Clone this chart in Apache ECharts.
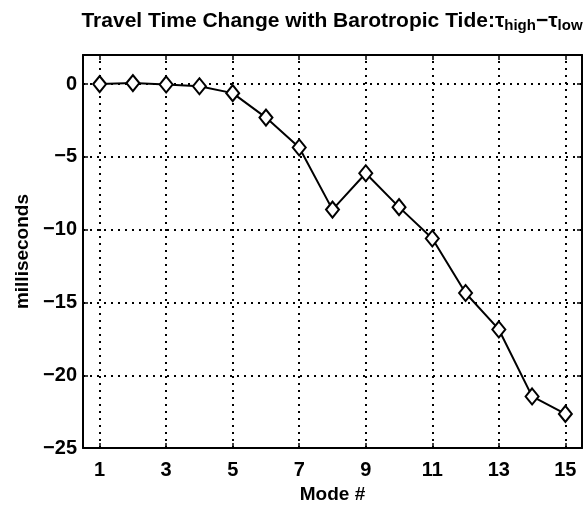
<!DOCTYPE html>
<html><head><meta charset="utf-8">
<script src="https://cdn.jsdelivr.net/npm/echarts@6/dist/echarts.min.js"></script>
<style>html,body{margin:0;padding:0;background:#fff}#c{width:587px;height:509px}</style>
</head><body><div id="c"></div>
<script>
const modes = [1,2,3,4,5,6,7,8,9,10,11,12,13,14,15];
const travelTime = [0, 0.07, -0.02, -0.15, -0.62, -2.3, -4.35, -8.62, -6.12, -8.45, -10.6, -14.35, -16.85, -21.45, -22.65];
const xTicks = [1,3,5,7,9,11,13,15];
const yTicks = [0,-5,-10,-15,-20,-25];

const font = 'Liberation Sans, Arial, sans-serif';
const chart = echarts.init(document.getElementById('c'));
const axisLine = {onZero:false, lineStyle:{color:'#000', width:2}};
chart.setOption({
  animation:false,
  backgroundColor:'#fff',
  title:{
    text:'Travel Time Change with Barotropic Tide:τ{s|high}−τ{s|low}',
    left:327, textAlign:'center', top:5,
    textStyle:{fontFamily:font, fontWeight:'bold', fontSize:21, color:'#000', lineHeight:23,
      rich:{s:{fontFamily:font, fontWeight:'bold', fontSize:15, color:'#000', lineHeight:23, verticalAlign:'bottom', padding:[12,0,0,0]}}}
  },
  grid:{left:83, right:5, top:55, bottom:57},
  xAxis:[{
    type:'value', min:0.5, max:15.5,
    name:'Mode #', nameLocation:'middle', nameGap:23,
    nameTextStyle:{fontFamily:font, fontWeight:'bold', fontSize:19, color:'#000'},
    axisLine:axisLine,
    axisTick:{inside:true, length:5, customValues:xTicks, lineStyle:{color:'#000', width:1.5}},
    axisLabel:{customValues:xTicks, fontFamily:font, fontWeight:'bold', fontSize:20, color:'#000', margin:12},
    splitLine:{show:false}
  },{
    type:'value', min:0.5, max:15.5, position:'top',
    axisLine:axisLine,
    axisTick:{inside:true, length:5, customValues:xTicks, lineStyle:{color:'#000', width:1.5}},
    axisLabel:{show:false}, splitLine:{show:false}
  }],
  yAxis:[{
    type:'value', min:-25, max:2, interval:5,
    name:'milliseconds', nameLocation:'middle', nameGap:51,
    nameTextStyle:{fontFamily:font, fontWeight:'bold', fontSize:19, color:'#000'},
    axisLine:axisLine,
    axisTick:{inside:true, length:5, customValues:yTicks, lineStyle:{color:'#000', width:1.5}},
    axisLabel:{customValues:yTicks, fontFamily:font, fontWeight:'bold', fontSize:20, color:'#000', margin:6,
      formatter:v=>String(v).replace('-','\u2212')},
    splitLine:{show:false}
  },{
    type:'value', min:-25, max:2, interval:5, position:'right',
    axisLine:axisLine,
    axisTick:{inside:true, length:5, customValues:yTicks, lineStyle:{color:'#000', width:1.5}},
    axisLabel:{show:false}, splitLine:{show:false}
  }],
  series:[{
    type:'line', xAxisIndex:0, yAxisIndex:0,
    data:modes.map((m,i)=>[m, travelTime[i]]),
    symbol:'diamond', symbolSize:[13,16],
    itemStyle:{color:'#fff', borderColor:'#000', borderWidth:2},
    lineStyle:{color:'#000', width:2},
    z:5,
    markLine:{
      silent:true, symbol:'none', label:{show:false},
      lineStyle:{color:'#000', type:[2,5], width:2},
      data:[...xTicks.map(v=>({xAxis:v})), ...yTicks.filter(v=>v>-25).map(v=>({yAxis:v}))]
    }
  }]
});
</script></body></html>
